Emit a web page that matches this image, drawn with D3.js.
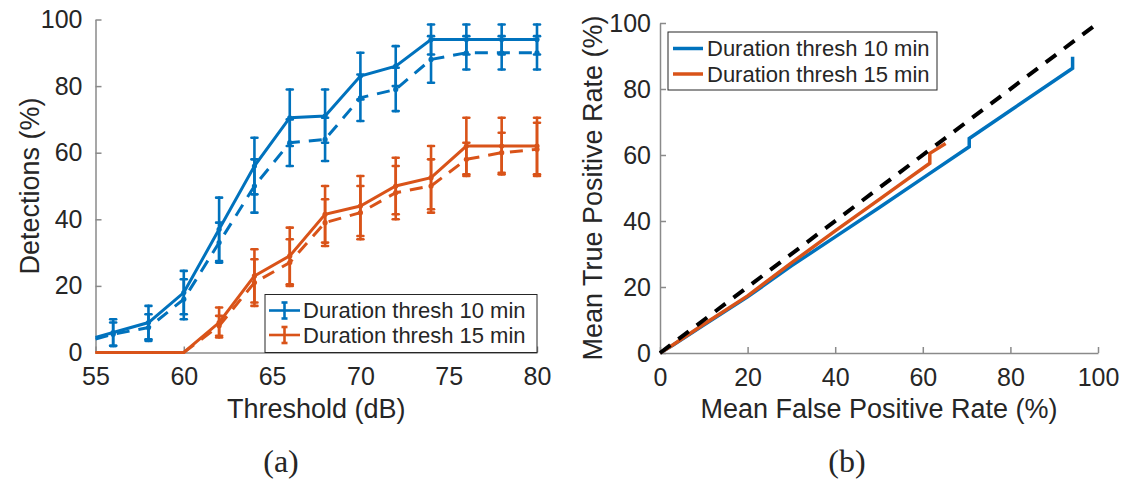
<!DOCTYPE html>
<html>
<head>
<meta charset="utf-8">
<script src="https://cdn.jsdelivr.net/npm/d3@7"></script>
<style>
  body { margin: 0; background: #fff; }
  text { font-family: "Liberation Sans", Arial, sans-serif; fill: #262626; }
  .domain { stroke: #8a8a8a; stroke-width: 1.5; }
  .tick line { stroke: #8a8a8a; stroke-width: 1.5; }
</style>
</head>
<body>
<div id="chart"></div>
<script>
// ---- panel (a) data ----
var thresholds = [55, 56, 58, 60, 62, 64, 66, 68, 70, 72, 74, 76, 78, 80];
var det10 = [4.5, 6, 9, 18, 37, 56, 70.5, 71, 83, 86, 94, 94, 94, 94];
var det10Err = [null, 4, 5, 6.5, 9.5, 8.5, 8.5, 8, 7, 6, 4.5, 4.5, 4.5, 4.5];
var det10Dash = [4, 5.5, 7.5, 16, 33, 50, 63, 64, 76.5, 79, 88, 90, 90, 90];
var det10DashErr = [null, 3.5, 4, 6, 6, 8, 7, 6.5, 7, 6.5, 7, 5, 5, 5];
var det15 = [0, 0, 0, 0, 9, 23, 29, 41.5, 44, 50, 52.5, 62, 62, 62];
var det15Err = [null, null, null, null, 4.5, 8, 8.5, 8.5, 9, 8.5, 9.5, 8.5, 8.5, 8.5];
var det15Dash = [0, 0, 0, 0, 8, 21, 27, 39, 42, 48, 50, 58, 60, 61];
var det15DashErr = [null, null, null, null, 3, 7, 7, 7, 8, 8, 8, 5, 6, 8];

// ---- panel (b) data ----
var fpr10 = [0, 3, 10, 20, 30, 40, 50, 60, 70.6, 70.6, 80, 94.2, 94.2];
var tpr10 = [0, 2.4, 8.5, 17, 26.4, 35.2, 44, 53, 62.5, 65, 73.5, 86.3, 89.8];
var fpr15 = [0, 3, 10, 20, 30, 40, 50, 56.2, 61.6, 61.6, 65.2];
var tpr15 = [0, 2.5, 8.7, 17.3, 27.3, 37, 46.5, 52.4, 57.5, 60.5, 63.5];
var chanceLine = [0, 100];

var seriesNames = ["Duration thresh 10 min", "Duration thresh 15 min"];
var colors = ["#0072BD", "#D95319"];
var xTicksA = [55, 60, 65, 70, 75, 80];
var yTicks = [0, 20, 40, 60, 80, 100];

var svg = d3.select("#chart")
  .append("svg")
    .attr("width", 1133)
    .attr("height", 480);

svg.append("rect").attr("width", 1133).attr("height", 480).attr("fill", "#fff");

// ================= panel (a) =================
var xa = d3.scaleLinear().domain([55, 80]).range([95.5, 537]);
var ya = d3.scaleLinear().domain([0, 100]).range([352.5, 19.5]);

svg.append("g")
  .attr("transform", "translate(0," + ya(0) + ")")
  .call(d3.axisBottom(xa).tickValues(xTicksA).tickSizeInner(-6).tickSizeOuter(0).tickPadding(15))
  .call(function(g) { g.selectAll("text").style("font-size", "25px").attr("fill", "#262626"); });

svg.append("g")
  .attr("transform", "translate(" + xa(55) + ",0)")
  .call(d3.axisLeft(ya).tickValues(yTicks).tickSizeInner(-6).tickSizeOuter(0).tickPadding(13))
  .call(function(g) { g.selectAll("text").style("font-size", "25px").attr("fill", "#262626"); });

function drawSeries(vals, errs, color, dashed) {
  var pts = thresholds.map(function(t, i) { return {x: t, y: vals[i], e: errs[i]}; });
  var line = d3.line().x(function(d) { return xa(d.x); }).y(function(d) { return ya(d.y); });
  svg.append("path")
    .datum(pts)
    .attr("d", line)
    .attr("fill", "none")
    .attr("stroke", color)
    .attr("stroke-width", 3)
    .attr("stroke-dasharray", dashed ? "13,9" : null);

  var eb = svg.append("g").attr("stroke", color).attr("stroke-width", 2.6).attr("stroke-linecap", "round");
  var withErr = pts.filter(function(d) { return d.e != null; });
  eb.selectAll(".bar").data(withErr).enter().append("line")
    .attr("x1", function(d) { return xa(d.x); })
    .attr("x2", function(d) { return xa(d.x); })
    .attr("y1", function(d) { return ya(d.y - d.e); })
    .attr("y2", function(d) { return ya(d.y + d.e); });
  [-1, 1].forEach(function(s) {
    eb.selectAll(".cap" + s).data(withErr).enter().append("line")
      .attr("x1", function(d) { return xa(d.x) - 3; })
      .attr("x2", function(d) { return xa(d.x) + 3; })
      .attr("y1", function(d) { return ya(d.y + s * d.e); })
      .attr("y2", function(d) { return ya(d.y + s * d.e); });
  });
  svg.append("g").selectAll("circle").data(withErr).enter().append("circle")
    .attr("cx", function(d) { return xa(d.x); })
    .attr("cy", function(d) { return ya(d.y); })
    .attr("r", 2.6)
    .attr("fill", color);
}

drawSeries(det10, det10Err, colors[0], false);
drawSeries(det10Dash, det10DashErr, colors[0], true);
drawSeries(det15, det15Err, colors[1], false);
drawSeries(det15Dash, det15DashErr, colors[1], true);

// legend (a)
var legA = svg.append("g");
legA.append("rect")
  .attr("x", 265).attr("y", 294.5).attr("width", 272).attr("height", 58)
  .attr("fill", "#fff").attr("stroke", "#262626").attr("stroke-width", 1);
seriesNames.forEach(function(name, i) {
  var cy = 310.5 + i * 24.5;
  var g = legA.append("g").attr("stroke", colors[i]).attr("stroke-width", 2.6);
  g.append("line").attr("x1", 269).attr("x2", 300).attr("y1", cy).attr("y2", cy);
  g.append("line").attr("x1", 284.5).attr("x2", 284.5).attr("y1", cy - 8).attr("y2", cy + 8);
  g.append("line").attr("x1", 281.5).attr("x2", 287.5).attr("y1", cy - 8).attr("y2", cy - 8);
  g.append("line").attr("x1", 281.5).attr("x2", 287.5).attr("y1", cy + 8).attr("y2", cy + 8);
  legA.append("text")
    .attr("x", 303).attr("y", cy).attr("dy", "0.36em")
    .style("font-size", "22px")
    .text(name);
});

svg.append("text")
  .attr("x", (xa(55) + xa(80)) / 2)
  .attr("y", 418)
  .attr("text-anchor", "middle")
  .style("font-size", "27px")
  .text("Threshold (dB)");

svg.append("text")
  .attr("transform", "translate(39," + (ya(50)) + ")rotate(-90)")
  .attr("text-anchor", "middle")
  .style("font-size", "27px")
  .text("Detections (%)");

// ================= panel (b) =================
var xb = d3.scaleLinear().domain([0, 100]).range([660, 1098]);
var yb = d3.scaleLinear().domain([0, 100]).range([353, 23]);

svg.append("g")
  .attr("transform", "translate(0," + yb(0) + ")")
  .call(d3.axisBottom(xb).tickValues(yTicks).tickSizeInner(-6).tickSizeOuter(0).tickPadding(15))
  .call(function(g) { g.selectAll("text").style("font-size", "25px").attr("fill", "#262626"); });

svg.append("g")
  .attr("transform", "translate(" + xb(0) + ",0)")
  .call(d3.axisLeft(yb).tickValues(yTicks).tickSizeInner(-6).tickSizeOuter(0).tickPadding(9))
  .call(function(g) { g.selectAll("text").style("font-size", "25px").attr("fill", "#262626"); });

var rocLine = d3.line()
  .x(function(d) { return xb(d[0]); })
  .y(function(d) { return yb(d[1]); });

svg.append("path")
  .datum(d3.zip(fpr10, tpr10))
  .attr("d", rocLine)
  .attr("fill", "none")
  .attr("stroke", colors[0])
  .attr("stroke-width", 3.5);

svg.append("path")
  .datum(d3.zip(fpr15, tpr15))
  .attr("d", rocLine)
  .attr("fill", "none")
  .attr("stroke", colors[1])
  .attr("stroke-width", 3.5);

svg.append("path")
  .datum(d3.zip(chanceLine, chanceLine))
  .attr("d", rocLine)
  .attr("fill", "none")
  .attr("stroke", "#000")
  .attr("stroke-width", 4)
  .attr("stroke-dasharray", "13,10");

// legend (b)
var legB = svg.append("g");
legB.append("rect")
  .attr("x", 668).attr("y", 32).attr("width", 269).attr("height", 58)
  .attr("fill", "#fff").attr("stroke", "#262626").attr("stroke-width", 1);
seriesNames.forEach(function(name, i) {
  var cy = 48.5 + i * 25.5;
  legB.append("line")
    .attr("x1", 673).attr("x2", 703).attr("y1", cy).attr("y2", cy)
    .attr("stroke", colors[i]).attr("stroke-width", 3.5);
  legB.append("text")
    .attr("x", 707).attr("y", cy).attr("dy", "0.36em")
    .style("font-size", "22px")
    .text(name);
});

svg.append("text")
  .attr("x", (xb(0) + xb(100)) / 2)
  .attr("y", 418)
  .attr("text-anchor", "middle")
  .style("font-size", "27px")
  .text("Mean False Positive Rate (%)");

svg.append("text")
  .attr("transform", "translate(602," + yb(50) + ")rotate(-90)")
  .attr("text-anchor", "middle")
  .style("font-size", "27px")
  .text("Mean True Positive Rate (%)");

// panel captions
svg.append("text")
  .attr("x", 281).attr("y", 472)
  .attr("text-anchor", "middle")
  .style("font-family", "'Liberation Serif', 'Times New Roman', serif")
  .style("font-size", "32px")
  .attr("fill", "#000")
  .text("(a)");

svg.append("text")
  .attr("x", 847).attr("y", 472)
  .attr("text-anchor", "middle")
  .style("font-family", "'Liberation Serif', 'Times New Roman', serif")
  .style("font-size", "32px")
  .attr("fill", "#000")
  .text("(b)");
</script>
</body>
</html>
